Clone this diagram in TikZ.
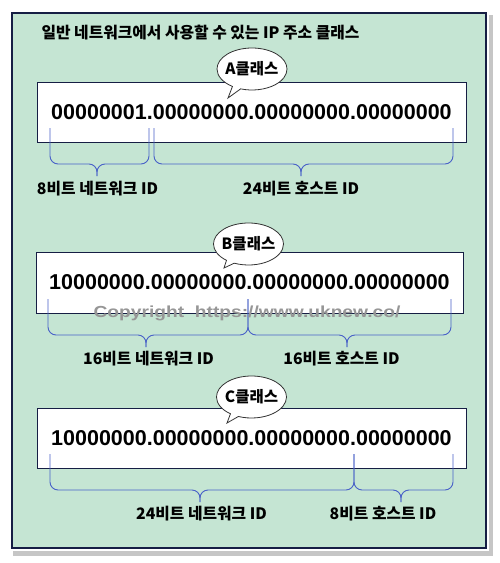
\documentclass[tikz,border=0pt]{standalone}
\usepackage{fontspec}
\setmainfont{Liberation Sans}
\newfontfamily\krfont{Noto Sans CJK KR}
\usetikzlibrary{shapes,shapes.callouts,shadows}
\definecolor{panelgreen}{RGB}{197,229,211}
\definecolor{framenavy}{RGB}{22,30,68}
\definecolor{braceblue}{RGB}{72,96,200}
\definecolor{markgray}{RGB}{150,150,150}

\tikzset{
	ipbox/.style={draw=framenavy, fill=white, line width=.9pt, inner sep=0pt,
		minimum width=429pt, minimum height=60pt,
		font=\fontsize{21.5}{24}\selectfont\bfseries},
	bubble/.style={ellipse callout, draw=black!80, fill=white, line width=.8pt,
		inner sep=-5pt, minimum width=70pt, minimum height=42pt,
		font=\krfont\bfseries\fontsize{15.5}{18}\selectfont},
	bitlabel/.style={font=\krfont\bfseries\fontsize{15.8}{18}\selectfont},
	bitbrace/.style={braceblue, line width=.9pt, rounded corners=8pt}
}

% #1 left end, #2 right end, #3 tip, #4 top of the brace
\newcommand{\bitbrace}[4]{%
	\draw[bitbrace] (#1,#4) -- (#1,#4+36) -- (#3,#4+36) -- (#3,#4+48);
	\draw[bitbrace] (#2,#4) -- (#2,#4+36) -- (#3,#4+36) -- (#3,#4+48);
}

\begin{document}
\begin{tikzpicture}[x=1pt, y=-1pt]
	\useasboundingbox (0,0) rectangle (500,563);
	\fill[white, drop shadow={shadow xshift=4pt, shadow yshift=-5pt, opacity=.45}] (9,10) rectangle (489,551);
	\draw[framenavy, fill=panelgreen, line width=1.1pt] (12,13) rectangle (486,548);
	\node[bitlabel, anchor=west] (title) at (38,33) {일반 네트워크에서 사용할 수 있는 IP 주소 클래스};

	% class A
	\node[ipbox] (boxA) at (251.5,112) {00000001.00000000.00000000.00000000};
	\bitbrace{50}{149}{97}{128}
	\bitbrace{154}{453}{301}{128}
	\coordinate (tipA) at (228,98);
	\node[bubble, callout absolute pointer=(tipA)] (bubA) at (252,69) {A클래스};
	\node[bitlabel] (netA) at (97.5,189) {8비트 네트워크 ID};
	\node[bitlabel] (hostA) at (301,189) {24비트 호스트 ID};

	% class B
	\node[ipbox, minimum width=427pt, minimum height=61pt] (boxB) at (249.5,282.5) {10000000.00000000.00000000.00000000};
	\bitbrace{48}{248}{146}{299}
	\bitbrace{248}{451}{347}{299}
	\coordinate (tipB) at (224,268);
	\node[bubble, callout absolute pointer=(tipB)] (bubB) at (248.5,244) {B클래스};
	\node[bitlabel] (netB) at (148.5,359) {16비트 네트워크 ID};
	\node[bitlabel] (hostB) at (341.5,359) {16비트 호스트 ID};

	% class C
	\node[ipbox] (boxC) at (251.5,438) {10000000.00000000.00000000.00000000};
	\bitbrace{50}{354}{200}{454}
	\bitbrace{354}{453}{401}{454}
	\coordinate (tipC) at (227,423);
	\node[bubble, callout absolute pointer=(tipC)] (bubC) at (251.5,397) {C클래스};
	\node[bitlabel] (netC) at (201.5,514) {24비트 네트워크 ID};
	\node[bitlabel] (hostC) at (383,514) {8비트 호스트 ID};

	\node[markgray, font=\fontsize{16}{18}\selectfont\bfseries] (mark) at (247,313) {\scalebox{1.2}[1]{Copyright\ \ https://www.uknew.co/}};
\end{tikzpicture}
\end{document}
